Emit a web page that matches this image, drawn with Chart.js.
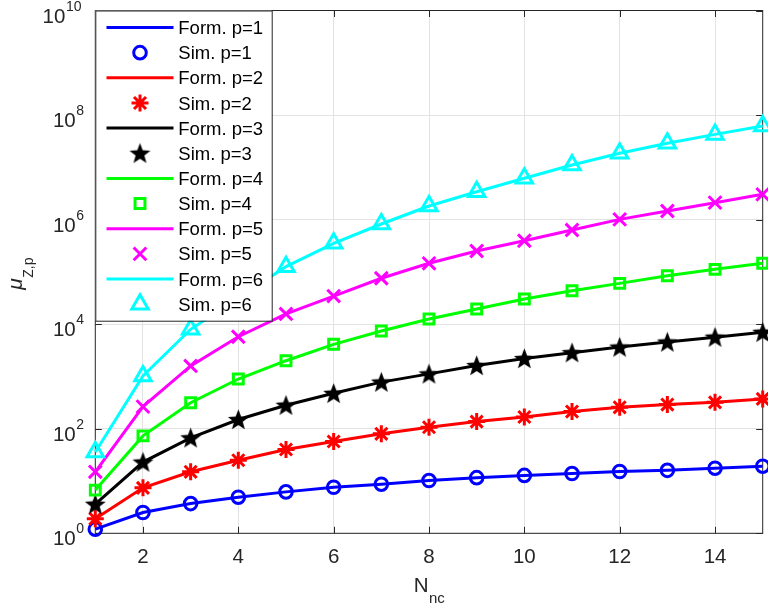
<!DOCTYPE html>
<html>
<head>
<meta charset="utf-8">
<script src="https://cdn.jsdelivr.net/npm/chart.js@4.4.0/dist/chart.umd.min.js"></script>
<style>
  html, body { margin: 0; padding: 0; background: #fff; }
</style>
</head>
<body>
<canvas id="myChart" width="768" height="610"></canvas>
<script>
// number of NC users on the x axis
const nc = [1, 2, 3, 4, 5, 6, 7, 8, 9, 10, 11, 12, 13, 14, 15]

// moments mu_{Z,p} for p = 1..6
const momentP1 = [1.2, 2.5, 3.7, 4.9, 6.2, 7.6, 8.7, 10.2, 11.6, 12.8, 13.9, 15.2, 16.0, 17.6, 19.2]
const momentP2 = [1.9, 7.4, 15, 25, 40, 57, 80, 107, 137, 168, 213, 257, 290, 320, 372]
const momentP3 = [3.6, 23, 67, 150, 282, 476, 780, 1120, 1620, 2200, 2850, 3650, 4550, 5650, 7000]
const momentP4 = [6.7, 73, 315, 894, 2000, 4120, 7410, 12600, 19500, 30300, 43700, 60300, 84600, 112000, 146000]
const momentP5 = [15, 265, 1590, 5760, 15700, 34500, 75500, 146000, 251000, 395000, 634000, 1010000, 1460000, 2110000, 3050000]
const momentP6 = [36, 1020, 7980, 31600, 126000, 352000, 824000, 1820000, 3420000, 6170000, 11100000, 18600000, 28900000, 42700000, 61700000]

const xTicks = [2, 4, 6, 8, 10, 12, 14]
const yExponents = [0, 2, 4, 6, 8, 10]

const pValues = [1, 2, 3, 4, 5, 6]
const seriesColors = ['#0000ff', '#ff0000', '#000000', '#00ff00', '#ff00ff', '#00ffff']

const axisColor = '#262626'
const gridColor = '#e3e3e3'
const fontFamily = "'Liberation Sans', Arial, Helvetica, sans-serif"

// filled pentagram used for the p=3 markers
function makePentagram(size, color){
    const c = document.createElement('canvas')
    c.width = size
    c.height = size
    const g = c.getContext('2d')
    const cx = size / 2, cy = size / 2 + 0.8
    const outer = size / 2 - 0.5
    const inner = outer * 0.42
    g.beginPath()
    for (let i = 0; i < 10; i++){
        const r = i % 2 === 0 ? outer : inner
        const a = -Math.PI / 2 + i * Math.PI / 5
        g.lineTo(cx + r * Math.cos(a), cy + r * Math.sin(a))
    }
    g.closePath()
    g.fillStyle = color
    g.fill()
    return c
}

const markerStyles = [
    { pointStyle: 'circle', radius: 6.3, borderWidth: 3 },
    { pointStyle: 'star', radius: 8.5, borderWidth: 3 },
    { pointStyle: makePentagram(23, '#000000'), radius: 11, borderWidth: 0 },
    { pointStyle: 'rect', radius: 7, borderWidth: 3 },
    { pointStyle: 'crossRot', radius: 9, borderWidth: 3 },
    { pointStyle: 'triangle', radius: 9.5, borderWidth: 3 }
]

const moments = [momentP1, momentP2, momentP3, momentP4, momentP5, momentP6]

function toPoints(values){
    return nc.map((n, i) => ({ x: n, y: values[i] }))
}

function buildDatasets(){
    const datasets = []
    moments.forEach((values, k) => {
        const color = seriesColors[k]
        datasets.push({
            label: 'Form. p=' + pValues[k],
            data: toPoints(values),
            borderColor: color,
            borderWidth: 3,
            pointRadius: 0,
            fill: false,
            clip: false
        })
        const m = markerStyles[k]
        datasets.push({
            label: 'Sim. p=' + pValues[k],
            data: toPoints(values),
            showLine: false,
            borderColor: color,
            backgroundColor: 'rgba(0,0,0,0)',
            pointStyle: m.pointStyle,
            pointRadius: m.radius,
            pointBorderWidth: m.borderWidth,
            clip: false
        })
    })
    // later series sit on top, like the plotting order
    datasets.forEach((d, i) => { d.order = -i })
    return datasets
}

// box, inward ticks, power-of-ten labels, axis titles and legend
const matlabAxes = {
    id: 'matlabAxes',
    beforeDatasetsDraw(chart){
        const { ctx, chartArea: a, scales } = chart
        ctx.save()
        ctx.strokeStyle = axisColor
        ctx.lineWidth = 1
        ctx.strokeRect(a.left, a.top, a.right - a.left, a.bottom - a.top)
        const tl = 6.5
        ctx.beginPath()
        xTicks.forEach(v => {
            const px = Math.round(scales.x.getPixelForValue(v)) + 0.5
            ctx.moveTo(px, a.bottom); ctx.lineTo(px, a.bottom - tl)
            ctx.moveTo(px, a.top); ctx.lineTo(px, a.top + tl)
        })
        yExponents.forEach(e => {
            const py = Math.round(scales.y.getPixelForValue(Math.pow(10, e))) + 0.5
            ctx.moveTo(a.left, py); ctx.lineTo(a.left + tl, py)
            ctx.moveTo(a.right, py); ctx.lineTo(a.right - tl, py)
        })
        ctx.stroke()
        ctx.restore()
    },
    afterDraw(chart){
        const { ctx, chartArea: a, scales } = chart
        ctx.save()
        ctx.fillStyle = axisColor
        ctx.textAlign = 'left'
        ctx.textBaseline = 'alphabetic'

        // y tick labels 10^e
        yExponents.forEach(e => {
            const py = scales.y.getPixelForValue(Math.pow(10, e))
            ctx.font = '20.5px ' + fontFamily
            const wBase = ctx.measureText('10').width
            const sup = String(e)
            const start = 86 - wBase - sup.length * 10.3
            ctx.fillText('10', start, py + 12)
            ctx.font = '14px ' + fontFamily
            ctx.fillText(sup, start + wBase + 0.5, py)
        })

        // x title N_nc
        ctx.font = '20.5px ' + fontFamily
        const wN = ctx.measureText('N').width
        ctx.font = '15px ' + fontFamily
        const wSub = ctx.measureText('nc').width
        const cx = (a.left + a.right) / 2
        const xs = cx - (wN + wSub) / 2
        ctx.font = '20.5px ' + fontFamily
        ctx.fillText('N', xs, 592)
        ctx.font = '15px ' + fontFamily
        ctx.fillText('nc', xs + wN + 0.5, 603)

        // y title mu_{Z,p}
        ctx.save()
        ctx.translate(22, (a.top + a.bottom) / 2 + 2)
        ctx.rotate(-Math.PI / 2)
        ctx.font = 'italic 21px ' + fontFamily
        const wMu = ctx.measureText('\u03bc').width
        ctx.font = '14px ' + fontFamily
        const wZp = ctx.measureText('Z,p').width
        const ys = -(wMu + wZp) / 2
        ctx.font = 'italic 21px ' + fontFamily
        ctx.fillText('\u03bc', ys, 0)
        ctx.font = '14px ' + fontFamily
        ctx.fillText('Z,p', ys + wMu + 0.5, 11)
        ctx.restore()

        // legend in the upper-left corner
        const lx = a.left, ly = a.top, lw = 176.4, lh = 310.2
        ctx.fillStyle = '#ffffff'
        ctx.fillRect(lx, ly, lw, lh)
        ctx.strokeStyle = axisColor
        ctx.lineWidth = 1
        ctx.strokeRect(lx + 0.5, ly + 0.5, lw, lh)
        ctx.font = '18.5px ' + fontFamily
        ctx.textBaseline = 'middle'
        chart.data.datasets.forEach((d, i) => {
            const rowY = ly + 17 + 25.15 * i
            if (d.showLine === false){
                ctx.save()
                ctx.strokeStyle = d.borderColor
                ctx.fillStyle = 'rgba(0,0,0,0)'
                ctx.lineWidth = d.pointBorderWidth
                Chart.helpers.drawPoint(ctx, {
                    pointStyle: d.pointStyle,
                    radius: d.pointRadius,
                    borderWidth: d.pointBorderWidth,
                    rotation: 0
                }, 140, rowY)
                ctx.restore()
            } else {
                ctx.strokeStyle = d.borderColor
                ctx.lineWidth = d.borderWidth
                ctx.beginPath()
                ctx.moveTo(106.5, rowY)
                ctx.lineTo(173.5, rowY)
                ctx.stroke()
            }
            ctx.fillStyle = '#000000'
            ctx.fillText(d.label, 178.3, rowY + 1.5)
        })
        ctx.restore()
    }
}

const canvas = document.querySelector('#myChart')
const myChart = new Chart(canvas, {
    type: 'line',
    data: { datasets: buildDatasets() },
    options: {
        responsive: false,
        animation: false,
        devicePixelRatio: 1,
        layout: { autoPadding: false, padding: { left: 0, right: 5.3, top: 10.5, bottom: 0 } },
        plugins: {
            legend: { display: false },
            tooltip: { enabled: false }
        },
        scales: {
            x: {
                type: 'linear',
                min: 1,
                max: 15,
                afterBuildTicks: s => { s.ticks = xTicks.map(v => ({ value: v })) },
                afterFit: s => { s.height = 76.7 },
                grid: { color: gridColor, drawTicks: false },
                border: { display: false },
                ticks: {
                    color: axisColor,
                    font: { family: fontFamily, size: 20.5 },
                    padding: 12,
                    maxRotation: 0,
                    autoSkip: false
                }
            },
            y: {
                type: 'logarithmic',
                min: 1,
                max: 1e10,
                afterBuildTicks: s => { s.ticks = yExponents.map(e => ({ value: Math.pow(10, e) })) },
                afterFit: s => { s.width = 95.3 },
                grid: { color: gridColor, drawTicks: false },
                border: { display: false },
                ticks: { display: false }
            }
        }
    },
    plugins: [matlabAxes]
})
</script>
</body>
</html>
